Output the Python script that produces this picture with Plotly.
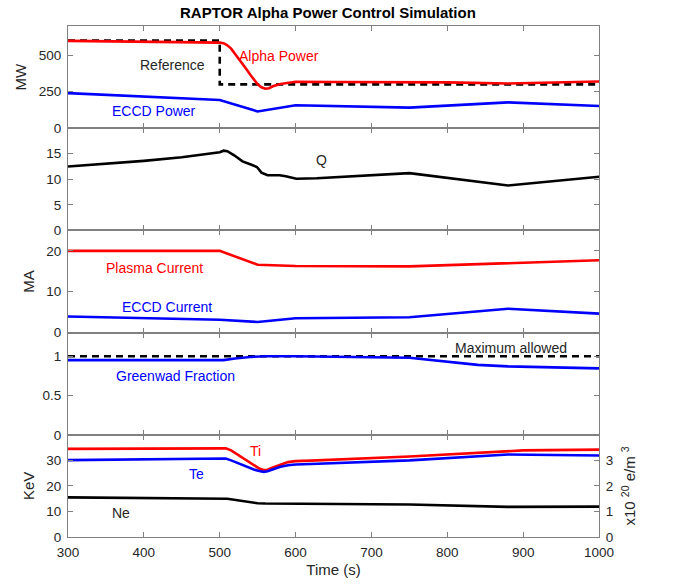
import plotly.graph_objects as go
from plotly.subplots import make_subplots

# ---------------- data ----------------
# Panel 1: powers (MW)
ref_t = [300, 500, 500, 1000]
ref_p = [600, 600, 300, 300]
alpha_t = [300, 400, 500, 505, 510, 515, 520, 525, 530, 535, 540, 545, 550, 555, 560,
           565, 570, 580, 590, 600, 650, 750, 800, 880, 1000]
alpha_p = [598, 593, 586, 582, 568, 545, 512, 478, 442, 405, 368, 332, 300, 280, 270,
           274, 287, 303, 313, 318, 316, 318, 314, 306, 320]
eccdp_t = [300, 500, 550, 600, 750, 880, 1000]
eccdp_p = [240, 193, 115, 157, 141, 177, 152]

# Panel 2: Q
q_t = [300, 400, 450, 490, 500, 505, 510, 519, 530, 541, 549, 555, 563, 579, 587, 601,
       628, 750, 880, 1000]
q_v = [12.5, 13.6, 14.3, 15.0, 15.3, 15.6, 15.5, 14.7, 13.5, 12.9, 12.4, 11.3, 10.8,
       10.8, 10.6, 10.1, 10.2, 11.2, 8.8, 10.5]

# Panel 3: currents (MA)
ip_t = [300, 500, 550, 600, 750, 880, 1000]
ip_v = [20.0, 20.0, 16.6, 16.3, 16.2, 16.9, 17.7]
eccdi_t = [300, 500, 550, 600, 750, 880, 1000]
eccdi_v = [3.95, 3.15, 2.6, 3.5, 3.75, 5.85, 4.65]

# Panel 4: Greenwald fraction
gw_t = [300, 505, 520, 540, 560, 600, 750, 790, 840, 880, 1000]
gw_v = [0.95, 0.95, 0.97, 0.99, 1.0, 1.0, 0.98, 0.94, 0.89, 0.87, 0.845]
gwmax_t = [300, 1000]
gwmax_v = [1.0, 1.0]

# Panel 5: temperatures (keV) and density (1e20 m^-3)
ti_t = [300, 400, 500, 508, 515, 525, 535, 545, 552, 558, 563, 570, 580, 590, 600, 620,
        750, 880, 900, 1000]
ti_v = [34.5, 34.6, 34.8, 34.7, 33.9, 32.0, 30.0, 28.0, 26.8, 26.2, 26.3, 27.2, 28.4,
        29.3, 29.7, 29.9, 31.5, 33.8, 33.9, 34.2]
te_t = [300, 500, 508, 515, 525, 535, 545, 552, 558, 563, 570, 580, 590, 600, 620,
        750, 880, 900, 1000]
te_v = [30.1, 30.8, 30.7, 30.0, 28.8, 27.5, 26.4, 25.8, 25.5, 25.7, 26.5, 27.5, 28.1,
        28.4, 28.6, 30.0, 32.3, 32.2, 31.9]
ne_t = [300, 500, 510, 550, 560, 750, 880, 1000]
ne_v = [1.55, 1.53, 1.50, 1.32, 1.31, 1.27, 1.18, 1.19]

x_ticks = [300, 400, 500, 600, 700, 800, 900, 1000]

# ---------------- figure ----------------
RED, BLUE, BLACK = "#ff0000", "#0000ff", "#000000"
TXT = "#262626"
AX = "#808080"
FONT = "Liberation Sans, Arial, Helvetica, sans-serif"
LW = 2.6

fig = make_subplots(rows=5, cols=1, shared_xaxes=True, vertical_spacing=0,
                    specs=[[{}], [{}], [{}], [{}], [{"secondary_y": True}]])

def line(t, v, color, row, dash=None, secondary=False):
    kw = dict(x=t, y=v, mode="lines", showlegend=False, hoverinfo="skip",
              line=dict(color=color, width=LW, dash=dash))
    if row == 5:
        fig.add_trace(go.Scatter(**kw), row=row, col=1, secondary_y=secondary)
    else:
        fig.add_trace(go.Scatter(**kw), row=row, col=1)

line(ref_t, ref_p, BLACK, 1, dash="7px,5px")
line(alpha_t, alpha_p, RED, 1)
line(eccdp_t, eccdp_p, BLUE, 1)
line(q_t, q_v, BLACK, 2)
line(ip_t, ip_v, RED, 3)
line(eccdi_t, eccdi_v, BLUE, 3)
line(gwmax_t, gwmax_v, BLACK, 4, dash="7px,5px")
line(gw_t, gw_v, BLUE, 4)
line(ti_t, ti_v, RED, 5)
line(te_t, te_v, BLUE, 5)
line(ne_t, ne_v, BLACK, 5, secondary=True)

def ann(x, y, text, color, row, size=14):
    fig.add_annotation(x=x, y=y, text=text, showarrow=False, row=row, col=1,
                       font=dict(color=color, size=size, family=FONT))

ann(438, 432, "Reference", TXT, 1)
ann(578, 495, "Alpha Power", RED, 1)
ann(414, 118, "ECCD Power", BLUE, 1)
ann(634, 13.7, "Q", TXT, 2)
ann(414, 15.9, "Plasma Current", RED, 3)
ann(430, 6.3, "ECCD Current", BLUE, 3)
ann(884, 1.11, "Maximum allowed", TXT, 4)
ann(442, 0.75, "Greenwad Fraction", BLUE, 4)
ann(547, 33.8, "Ti", RED, 5)
ann(469, 24.5, "Te", BLUE, 5)
ann(370, 9.4, "Ne", TXT, 5)

common_ax = dict(showline=True, linecolor=AX, linewidth=1, mirror="ticks",
                 ticks="inside", ticklen=5, tickcolor=AX, showgrid=False, zeroline=False,
                 tickfont=dict(size=13.5, color=TXT, family=FONT))

for r in range(1, 6):
    fig.update_xaxes(range=[300, 1000], tickvals=x_ticks, row=r, col=1, **common_ax)
fig.update_xaxes(title=dict(text="Time (s)", font=dict(size=15, color=TXT, family=FONT),
                            standoff=5), ticklabelstandoff=3, row=5, col=1)

ytitle = lambda s: dict(text=s, font=dict(size=15, color=TXT, family=FONT), standoff=8)
yax = dict(common_ax, ticklabelstandoff=3)
fig.update_yaxes(range=[0, 700], tickvals=[0, 250, 500], title=ytitle("MW"), row=1, col=1, **yax)
fig.update_yaxes(range=[0, 20], tickvals=[0, 5, 10, 15], row=2, col=1, **yax)
fig.update_yaxes(range=[0, 25], tickvals=[0, 10, 20], title=ytitle("MA"), row=3, col=1, **yax)
fig.update_yaxes(range=[0, 1.3], tickvals=[0, 0.5, 1], row=4, col=1, **yax)
ax5 = dict(yax)
ax5["mirror"] = True
fig.update_yaxes(range=[0, 40], tickvals=[0, 10, 20, 30], title=ytitle("KeV"), row=5, col=1,
                 secondary_y=False, **ax5)
fig.update_yaxes(range=[0, 4], tickvals=[0, 1, 2, 3], row=5, col=1, secondary_y=True,
                 showline=True, linecolor=AX, linewidth=1, ticks="inside", ticklen=5,
                 tickcolor=AX, showgrid=False, zeroline=False, ticklabelstandoff=3,
                 tickfont=dict(size=13.5, color=TXT, family=FONT),
                 title=dict(text="x10 <sup>20</sup> e/m <sup>3</sup>",
                            font=dict(size=15, color=TXT, family=FONT), standoff=12))

fig.update_layout(
    width=687, height=588,
    margin=dict(l=68, r=54, t=26, b=43),
    paper_bgcolor="white", plot_bgcolor="white",
    font=dict(family=FONT, color=TXT),
    title=dict(text="<b>RAPTOR Alpha Power Control Simulation</b>",
               font=dict(size=15, color="#000000", family=FONT),
               x=0.46, xref="paper", xanchor="center", y=1, yref="container",
               yanchor="top", pad=dict(t=7)),
    showlegend=False,
)

fig.write_html("out.html")
